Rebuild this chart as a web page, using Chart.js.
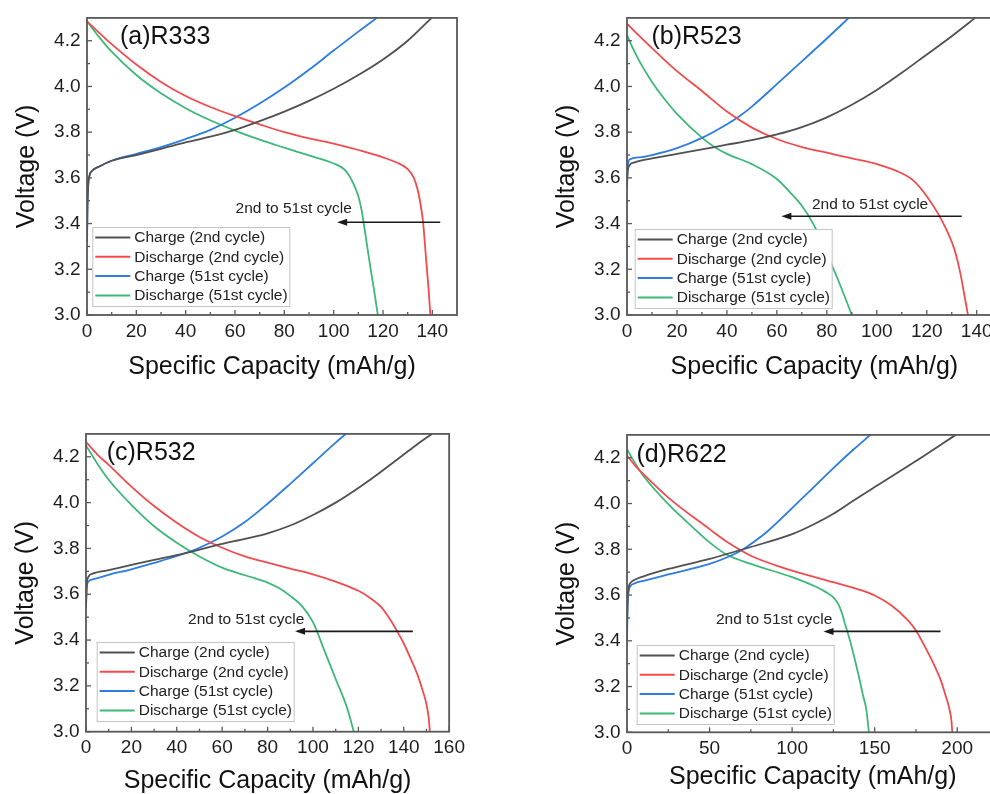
<!DOCTYPE html>
<html>
<head>
<meta charset="utf-8">
<title>Charge / discharge curves</title>
<script src="https://cdn.jsdelivr.net/npm/chart.js@4.4.1/dist/chart.umd.min.js"></script>
<style>
  html, body { margin: 0; padding: 0; background: #fff; width: 990px; height: 794px; overflow: hidden; }
  canvas { position: absolute; }
</style>
</head>
<body>
<canvas id="chartA"></canvas>
<canvas id="chartB"></canvas>
<canvas id="chartC"></canvas>
<canvas id="chartD"></canvas>
<script>
// capacity (mAh/g), voltage (V) pairs for each cathode
const r333Charge2nd = [[0,3.32],[0.2,3.48],[0.5,3.57],[1,3.61],[2,3.63],[5,3.65],[10,3.675],[20,3.70],[30,3.727],[40,3.755],[50,3.78],[60,3.81],[70,3.848],[80,3.89],[90,3.937],[100,3.99],[110,4.05],[120,4.118],[130,4.20],[139.7,4.30]];
const r333Discharge2nd = [[0,4.285],[10,4.185],[20,4.096],[30,4.02],[40,3.958],[50,3.91],[60,3.87],[70,3.834],[80,3.80],[90,3.773],[100,3.75],[110,3.722],[120,3.69],[126,3.665],[130,3.638],[132.5,3.60],[134,3.55],[135.3,3.48],[136.3,3.40],[137.5,3.24],[138.5,3.11],[139.2,3.0]];
const r333Charge51st = [[0,3.32],[0.2,3.48],[0.5,3.57],[1,3.61],[2,3.63],[5,3.65],[10,3.675],[20,3.705],[30,3.735],[40,3.77],[50,3.81],[60,3.863],[70,3.925],[80,3.995],[90,4.073],[100,4.157],[110,4.24],[117.5,4.30]];
const r333Discharge51st = [[0,4.285],[5,4.215],[10,4.152],[20,4.05],[30,3.97],[40,3.905],[50,3.852],[60,3.807],[70,3.767],[80,3.732],[90,3.698],[100,3.663],[104,3.64],[106,3.615],[108,3.575],[110,3.52],[111.3,3.46],[112.2,3.40],[113.6,3.30],[115,3.20],[116.5,3.10],[117.9,3.0]];

const r523Charge2nd = [[0,3.56],[0.3,3.63],[1,3.655],[3,3.668],[10,3.685],[20,3.705],[30,3.725],[40,3.745],[50,3.765],[60,3.79],[70,3.822],[80,3.865],[90,3.92],[100,3.985],[110,4.06],[120,4.14],[130,4.22],[139.4,4.30]];
const r523Discharge2nd = [[0,4.275],[5,4.22],[10,4.168],[20,4.067],[30,3.98],[40,3.89],[50,3.82],[60,3.77],[70,3.735],[80,3.71],[90,3.685],[100,3.66],[110,3.62],[115,3.585],[120,3.52],[125,3.435],[128,3.37],[131,3.29],[133.5,3.18],[135,3.09],[136.5,3.0]];
const r523Charge51st = [[0,3.58],[0.3,3.65],[1,3.68],[5,3.69],[10,3.70],[20,3.73],[30,3.775],[40,3.835],[45,3.87],[50,3.912],[60,4.01],[70,4.11],[80,4.21],[88.8,4.30]];
const r523Discharge51st = [[0,4.225],[2,4.175],[5,4.11],[10,4.02],[15,3.945],[20,3.88],[30,3.776],[35,3.735],[40,3.705],[50,3.66],[60,3.595],[65,3.54],[70,3.478],[75,3.39],[80,3.27],[85,3.14],[90,3.0]];

const r532Charge2nd = [[0,3.55],[0.3,3.64],[1,3.675],[3,3.69],[10,3.705],[20,3.728],[30,3.75],[40,3.771],[50,3.795],[60,3.82],[70,3.842],[80,3.866],[90,3.90],[100,3.946],[110,4.00],[120,4.064],[130,4.135],[140,4.21],[146,4.255],[152.4,4.30]];
const r532Discharge2nd = [[0,4.265],[5,4.21],[10,4.165],[20,4.07],[30,3.985],[40,3.912],[50,3.85],[60,3.803],[70,3.765],[80,3.738],[90,3.712],[100,3.687],[110,3.655],[120,3.615],[125,3.585],[130,3.545],[134,3.49],[137,3.44],[140,3.385],[143,3.32],[146,3.25],[148,3.19],[150,3.12],[151,3.06],[151.5,3.0]];
const r532Charge51st = [[0,3.54],[0.3,3.62],[1,3.655],[3,3.665],[10,3.685],[20,3.709],[30,3.737],[40,3.767],[50,3.803],[60,3.852],[70,3.915],[80,3.995],[90,4.082],[100,4.172],[110,4.262],[114.5,4.30]];
const r532Discharge51st = [[0,4.25],[5,4.17],[10,4.10],[20,3.99],[30,3.897],[40,3.825],[50,3.765],[60,3.716],[70,3.683],[80,3.651],[85,3.627],[90,3.593],[95,3.55],[100,3.478],[105,3.355],[110,3.23],[115,3.105],[118,3.0]];

const r622Charge2nd = [[0,3.45],[0.5,3.6],[2,3.652],[5,3.668],[10,3.682],[25,3.714],[50,3.758],[75,3.81],[100,3.866],[112,3.905],[125,3.955],[137,4.012],[150,4.072],[175,4.186],[199,4.30]];
const r622Discharge2nd = [[0,4.21],[5,4.165],[10,4.128],[25,4.026],[50,3.888],[60,3.835],[75,3.772],[90,3.73],[100,3.707],[125,3.656],[140,3.625],[150,3.598],[160,3.555],[170,3.49],[175,3.445],[180,3.38],[185,3.31],[190,3.228],[193,3.16],[195,3.11],[196.5,3.05],[197,3.0]];
const r622Charge51st = [[0,3.40],[0.5,3.58],[2,3.638],[5,3.652],[10,3.662],[25,3.69],[50,3.736],[60,3.763],[70,3.798],[75,3.823],[85,3.878],[100,3.98],[110,4.05],[125,4.155],[137,4.235],[147.4,4.30]];
const r622Discharge51st = [[0,4.237],[5,4.175],[10,4.12],[25,3.997],[40,3.895],[50,3.83],[60,3.778],[75,3.736],[100,3.678],[115,3.634],[120,3.615],[125,3.59],[128,3.56],[130,3.525],[132,3.475],[135,3.402],[140,3.257],[143,3.16],[145,3.097],[146.5,3.0]];

const seriesLabels = ['Charge (2nd cycle)', 'Discharge (2nd cycle)', 'Charge (51st cycle)', 'Discharge (51st cycle)'];
const voltageTicks = [3.0, 3.2, 3.4, 3.6, 3.8, 4.0, 4.2];
const capTicks140 = [0, 20, 40, 60, 80, 100, 120, 140];
const capTicks160 = [0, 20, 40, 60, 80, 100, 120, 140, 160];
const capTicks200 = [0, 50, 100, 150, 200];

const lineColors = ['#505050', '#f24b4e', '#2c7ce2', '#3eb879'];
const FONT = '"Liberation Sans", Arial, sans-serif';
const AXIS_GREY = '#585858';

// one entry per sub plot; plot = chart area on the page
const panels = [
  { canvas: 'chartA', label: '(a)R333', series: [r333Charge2nd, r333Discharge2nd, r333Charge51st, r333Discharge51st],
    xMax: 150, xTicks: capTicks140, plot: { l: 87, t: 16, r: 457, b: 315 }, xTitleY: 367,
    labelAt: [33, 19], legendAt: [5.3, 9],
    arrow: { from: 143.2, to: 101.4, y: 3.406, textX: 83.8, textY: 3.464 } },
  { canvas: 'chartB', label: '(b)R523', series: [r523Charge2nd, r523Discharge2nd, r523Charge51st, r523Discharge51st],
    xMax: 150, xTicks: capTicks140, plot: { l: 627, t: 16, r: 1001.7, b: 315 }, xTitleY: 367,
    labelAt: [24.4, 19], legendAt: [7.7, 7],
    arrow: { from: 134, to: 61.8, y: 3.432, textX: 97.3, textY: 3.483 } },
  { canvas: 'chartC', label: '(c)R532', series: [r532Charge2nd, r532Discharge2nd, r532Charge51st, r532Discharge51st],
    xMax: 160, xTicks: capTicks160, plot: { l: 86, t: 432, r: 457.3, b: 731.7 }, xTitleY: 781,
    labelAt: [20.7, 19.4], legendAt: [10.7, 10.7],
    arrow: { from: 144, to: 92.1, y: 3.438, textX: 70.6, textY: 3.489 } },
  { canvas: 'chartD', label: '(d)R622', series: [r622Charge2nd, r622Discharge2nd, r622Charge51st, r622Discharge51st],
    xMax: 225, xTicks: capTicks200, plot: { l: 627, t: 433, r: 998.5, b: 732.3 }, xTitleY: 777,
    labelAt: [9.4, 20], legendAt: [9.7, 8.3],
    arrow: { from: 189.9, to: 119, y: 3.441, textX: 89.1, textY: 3.493 } }
];

// frame, inward ticks, panel label, arrow and the boxed legend
const panelDecor = {
  id: 'panelDecor',
  afterDatasetsDraw(chart, args, opts) {
    const { ctx, chartArea: area, scales: { x, y } } = chart;
    ctx.save();

    // arrow "2nd to 51st cycle"
    const a = opts.arrow;
    const ay = y.getPixelForValue(a.y);
    const x0 = x.getPixelForValue(a.from), x1 = x.getPixelForValue(a.to);
    ctx.strokeStyle = '#1a1a1a';
    ctx.fillStyle = '#1a1a1a';
    ctx.lineWidth = 1.6;
    ctx.beginPath();
    ctx.moveTo(x0, ay);
    ctx.lineTo(x1 + 6, ay);
    ctx.stroke();
    ctx.beginPath();
    ctx.moveTo(x1, ay);
    ctx.lineTo(x1 + 10, ay - 3.5);
    ctx.lineTo(x1 + 10, ay + 3.5);
    ctx.closePath();
    ctx.fill();
    ctx.font = '15.5px ' + FONT;
    ctx.fillStyle = '#222';
    ctx.textAlign = 'center';
    ctx.textBaseline = 'middle';
    ctx.fillText('2nd to 51st cycle', x.getPixelForValue(a.textX), y.getPixelForValue(a.textY));

    // legend box in the lower left corner
    const lw = 197, lh = 79;
    const lx = area.left + opts.legendAt[0];
    const ly = area.bottom - opts.legendAt[1] - lh;
    ctx.fillStyle = '#fff';
    ctx.fillRect(lx, ly, lw, lh);
    ctx.strokeStyle = '#c4c4c4';
    ctx.lineWidth = 1;
    ctx.strokeRect(lx + 0.5, ly + 0.5, lw, lh);
    ctx.font = '15.5px ' + FONT;
    ctx.textAlign = 'left';
    chart.data.datasets.forEach((ds, i) => {
      const ry = ly + 10.5 + i * 19.3;
      ctx.strokeStyle = ds.borderColor;
      ctx.lineWidth = 2;
      ctx.beginPath();
      ctx.moveTo(lx + 3, ry);
      ctx.lineTo(lx + 38, ry);
      ctx.stroke();
      ctx.fillStyle = '#222';
      ctx.fillText(ds.label, lx + 42, ry + 0.5);
    });

    // panel label
    ctx.font = '25px ' + FONT;
    ctx.fillStyle = '#111';
    ctx.fillText(opts.label, area.left + opts.labelAt[0], area.top + opts.labelAt[1]);

    // frame
    ctx.strokeStyle = AXIS_GREY;
    ctx.lineWidth = 1.8;
    ctx.strokeRect(area.left, area.top, area.right - area.left, area.bottom - area.top);

    // major and minor ticks, pointing into the plot
    ctx.lineWidth = 1.3;
    const drawTicks = (scale, horizontal) => {
      const vals = scale.ticks.map(t => t.value);
      const step = vals[1] - vals[0];
      const minors = [];
      for (let v = scale.min + step / 2; v < scale.max - 1e-6; v += step) minors.push(v);
      const mark = (v, len) => {
        const p = scale.getPixelForValue(v);
        ctx.beginPath();
        if (horizontal) { ctx.moveTo(p, area.bottom); ctx.lineTo(p, area.bottom - len); }
        else { ctx.moveTo(area.left, p); ctx.lineTo(area.left + len, p); }
        ctx.stroke();
      };
      vals.forEach(v => mark(v, 5));
      minors.forEach(v => mark(v, 3));
    };
    drawTicks(x, true);
    drawTicks(y, false);

    ctx.restore();
  }
};

Chart.defaults.font.family = FONT;

panels.forEach(p => {
  const cv = document.getElementById(p.canvas);
  const left = Math.round(p.plot.l) - 87;
  const top = Math.round(p.plot.t) - 16;
  const width = Math.ceil(p.plot.r - left) + 12;
  const height = Math.round(p.xTitleY + 23 - top);
  const padRight = width - (p.plot.r - left);
  const xAxisH = height - (p.plot.b - top);
  cv.width = width;
  cv.height = height;
  Object.assign(cv.style, { left: left + 'px', top: top + 'px', width: width + 'px', height: height + 'px' });

  new Chart(cv, {
    type: 'line',
    data: {
      datasets: p.series.map((s, i) => ({
        label: seriesLabels[i],
        data: s.map(([cap, v]) => ({ x: cap, y: v })),
        borderColor: lineColors[i],
        backgroundColor: lineColors[i],
        borderWidth: 1.8,
        pointRadius: 0,
        fill: false,
        cubicInterpolationMode: 'monotone'
      }))
    },
    options: {
      responsive: false,
      animation: false,
      events: [],
      layout: { padding: { top: 16, right: padRight, left: 0, bottom: 0 } },
      plugins: {
        legend: { display: false },
        tooltip: { enabled: false },
        panelDecor: { label: p.label, arrow: p.arrow, labelAt: p.labelAt, legendAt: p.legendAt }
      },
      scales: {
        x: {
          type: 'linear',
          min: 0,
          max: p.xMax,
          grid: { display: false, drawTicks: false },
          border: { display: false },
          afterBuildTicks: s => { s.ticks = p.xTicks.map(v => ({ value: v })); },
          afterFit: s => { s.height = xAxisH; },
          ticks: { padding: 5, color: '#1e1e1e', font: { size: 19 }, autoSkip: false, maxRotation: 0, callback: v => String(v) },
          title: { display: true, text: 'Specific Capacity (mAh/g)', color: '#111', font: { size: 25 }, padding: { top: 0, bottom: 8 } }
        },
        y: {
          type: 'linear',
          min: 3.0,
          max: 4.3,
          grid: { display: false, drawTicks: false },
          border: { display: false },
          afterBuildTicks: s => { s.ticks = voltageTicks.map(v => ({ value: v })); },
          afterFit: s => { s.width = 87; },
          ticks: { padding: 6.5, color: '#1e1e1e', font: { size: 19 }, autoSkip: false, callback: v => v.toFixed(1) },
          title: { display: true, text: 'Voltage (V)', color: '#111', font: { size: 25 }, padding: { top: 12.5, bottom: 0 } }
        }
      }
    },
    plugins: [panelDecor]
  });
});
</script>
</body>
</html>
